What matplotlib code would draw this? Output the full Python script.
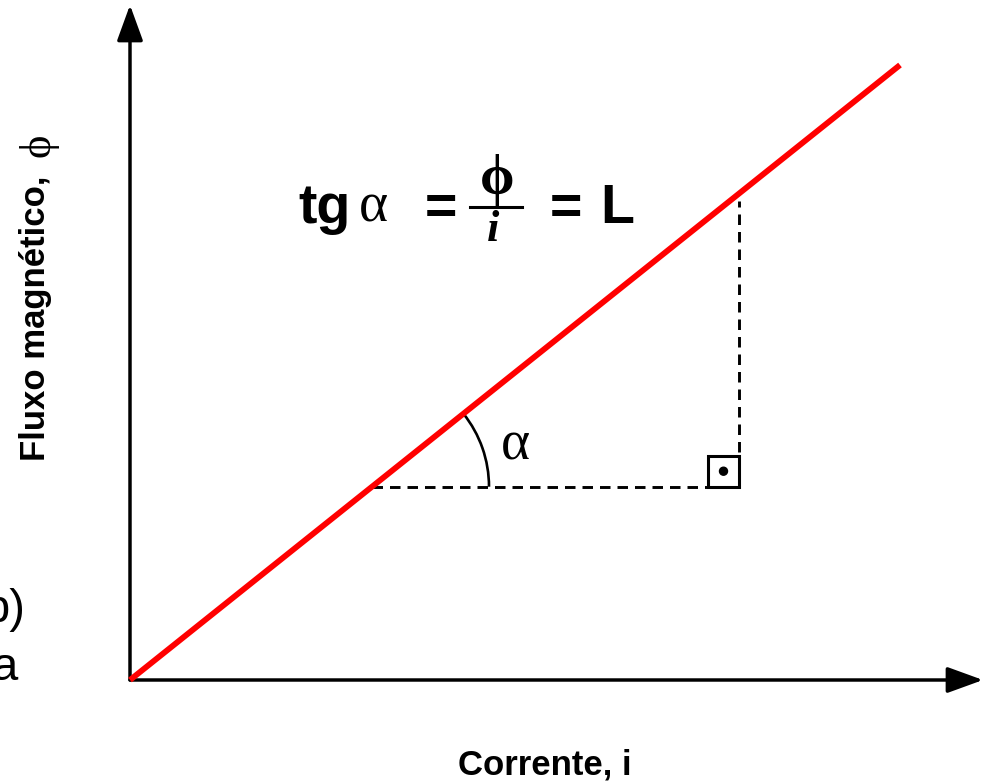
import matplotlib
matplotlib.use("Agg")
import matplotlib.pyplot as plt
from matplotlib.patches import Arc, Rectangle, Circle
import numpy as np

# straight line phi = L * i through the origin
corrente = [0.0, 7.70]
fluxo = [0.0, 6.15]
L = fluxo[1] / corrente[1]
# two currents used for the slope triangle
i_tri = [2.42, 6.09]
phi_tri = [L * v for v in i_tri]

x_axis_end = 8.53
y_axis_end = 6.75

SANS = ["Liberation Sans", "DejaVu Sans"]
SERIF = ["Liberation Serif", "DejaVu Serif"]

fig = plt.figure(figsize=(9.9, 7.81), dpi=100)
ax = fig.add_axes([0, 0, 1, 1])
ax.set_xlim(-1.30, 8.60)
ax.set_ylim(-1.01, 6.80)
ax.axis("off")

# axes with arrow heads
arrow = dict(arrowstyle="-|>,head_length=2.2,head_width=0.8", mutation_scale=10,
             lw=2.5, color="black", shrinkA=0, shrinkB=0)
ax.annotate("", xy=(x_axis_end, 0), xytext=(0, 0), arrowprops=arrow)
ax.annotate("", xy=(0, y_axis_end), xytext=(0, 0), arrowprops=arrow)

# characteristic line
ax.plot(corrente, fluxo, color="#ff0000", lw=4.2, solid_capstyle="butt", zorder=3)

# slope triangle
dash = (0, (3.6, 2.4))
ax.plot([i_tri[0], i_tri[1]], [phi_tri[0], phi_tri[0]], color="black", lw=2.1, linestyle=dash)
ax.plot([i_tri[1], i_tri[1]], [phi_tri[0], phi_tri[1] - 0.07], color="black", lw=2.1, linestyle=dash)

# right-angle mark
sq = 0.31
ax.add_patch(Rectangle((i_tri[1] - sq, phi_tri[0]), sq, sq, fill=False, lw=2.2, edgecolor="black"))
ax.add_patch(Circle((i_tri[1] - sq / 2, phi_tri[0] + sq / 2), 0.04, color="black"))

# angle arc
ang = np.degrees(np.arctan(L))
ax.add_patch(Arc((i_tri[0], phi_tri[0]), 2.34, 2.34, theta1=0, theta2=ang, lw=1.9, color="black"))
ax.text(3.85, 2.35, "α", family=SERIF, fontsize=40, ha="center", va="center")

# tg(alpha) = phi / i = L
ax.text(1.68, 4.57, "tg", family=SANS, fontweight="bold", fontsize=40, ha="left", va="baseline")
ax.text(2.29, 4.58, "α", family=SERIF, fontsize=40, ha="left", va="baseline")
ax.text(3.11, 4.70, "=", family=SANS, fontweight="bold", fontsize=40, ha="center", va="center")
ax.plot([3.40, 3.92], [4.73, 4.73], color="black", lw=2.2)
ax.text(3.67, 5.00, "ϕ", family=SERIF, fontweight="bold", fontsize=40, ha="center", va="center")
ax.text(3.63, 4.50, "i", family=SERIF, fontweight="bold", fontstyle="italic", fontsize=32,
        ha="center", va="center")
ax.text(4.36, 4.70, "=", family=SANS, fontweight="bold", fontsize=40, ha="center", va="center")
ax.text(4.70, 4.57, "L", family=SANS, fontweight="bold", fontsize=40, ha="left", va="baseline")

# axis titles
ax.text(-0.94, 3.62, "Fluxo magnético,", family=SANS, fontweight="bold", fontsize=25,
        rotation=90, ha="center", va="center")
ax.text(-0.92, 5.35, "ϕ", family=SERIF, fontsize=32, rotation=90, ha="center", va="center")
ax.text(4.15, -0.94, "Corrente, i", family=SANS, fontweight="bold", fontsize=25,
        ha="center", va="baseline")

# text cut off at the left edge
ax.text(-1.05, 0.58, "b)", family=SANS, fontsize=34, ha="right", va="baseline")
ax.text(-1.12, 0.00, "a", family=SANS, fontsize=34, ha="right", va="baseline")

fig.savefig("out.png", dpi=100)
